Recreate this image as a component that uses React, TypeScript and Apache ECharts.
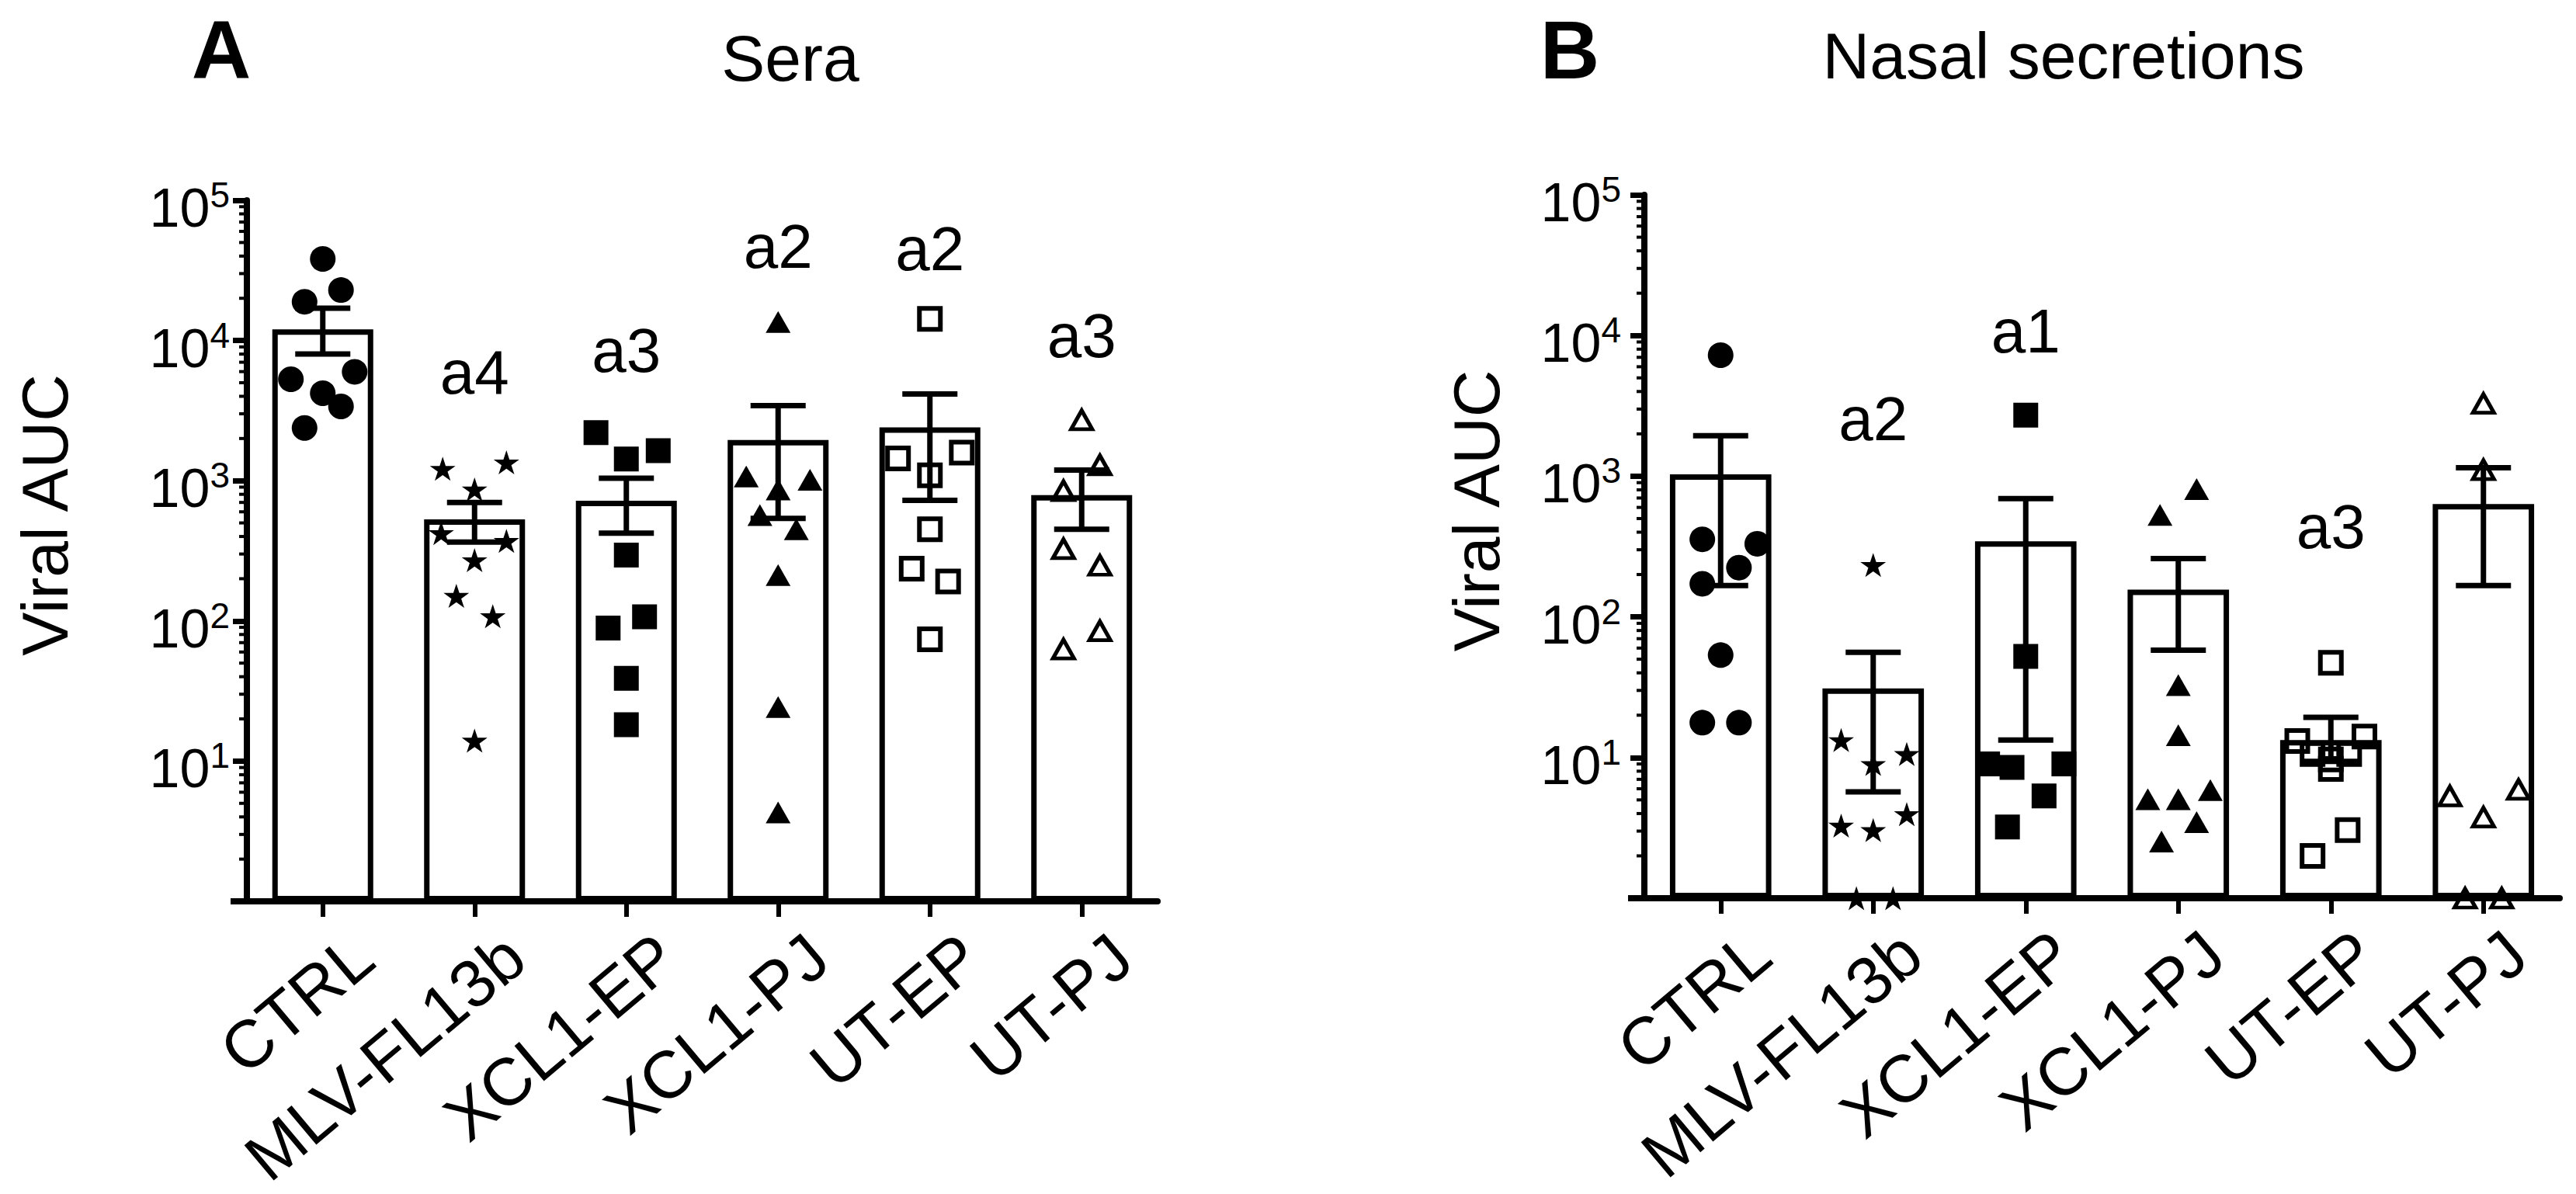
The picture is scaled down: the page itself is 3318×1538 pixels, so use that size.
import React, { useEffect, useRef } from "react";
import * as echarts from "echarts";

const categories = ["CTRL", "MLV-FL13b", "XCL1-EP", "XCL1-PJ", "UT-EP", "UT-PJ"];

// Panel A — Sera: bar means and SEM caps
const seraMean = [12000, 530, 720, 1950, 2400, 790];
const seraHigh = [17000, 700, 1040, 3430, 4150, 1190];
const seraLow = [8000, 365, 423, 538, 724, 450];

// Panel A individual animals: [spread within column, value]
const seraCTRL = [[0, 38200], [0.12, 22900], [-0.12, 18900], [0.21, 5980], [-0.21, 5290], [0, 4210], [0.12, 3390], [-0.12, 2380]];
const seraMLV = [[-0.21, 1217], [0.21, 1352], [0, 867], [-0.22, 423], [0.21, 372], [0, 271], [-0.12, 151], [0.12, 108], [0, 14]];
const seraXCL1EP = [[-0.2, 2200], [0.21, 1637], [0, 1427], [0, 295], [0.12, 107], [-0.12, 89], [0, 39], [0, 18.2]];
const seraXCL1PJ = [[0, 13560], [-0.21, 1072], [0.21, 1016], [0, 867], [-0.12, 568], [0.12, 450], [0, 212], [0, 24.3], [0, 4.3]];
const seraUTEP = [[0, 14280], [-0.21, 1440], [0.21, 1585], [0, 1094], [0, 450], [-0.12, 236], [0.12, 191], [0, 74]];
const seraUTPJ = [[0, 2717], [0.12, 1295], [-0.12, 849], [-0.12, 327], [0.12, 249], [0.12, 85], [-0.12, 63]];

// Panel B — Nasal secretions
const nasalMean = [1030, 31, 345, 156, 13.3, 635];
const nasalHigh = [1940, 56, 692, 260, 19.3, 1148];
const nasalLow = [167, 5.7, 13.3, 58, 9.4, 167];

const nasalCTRL = [[0, 7250], [-0.12, 356], [0.24, 331], [0.12, 224], [-0.12, 172], [0, 53.5], [-0.12, 17.7], [0.12, 17.7]];
const nasalMLV = [[0, 234], [-0.21, 13.3], [0, 9.0], [0.22, 10.6], [0.22, 3.96], [-0.21, 3.28], [0, 3.05], [-0.11, 1], [0.13, 1]];
const nasalXCL1EP = [[0, 2720], [0, 52.4], [-0.25, 9.0], [0.25, 9.0], [-0.09, 8.5], [0.12, 5.33], [-0.12, 3.21]];
const nasalXCL1PJ = [[0.12, 811], [-0.12, 531], [0, 32.7], [0, 14.4], [0.21, 5.86], [-0.2, 5.06], [0, 5.06], [0.12, 3.47], [-0.11, 2.53]];
const nasalUTEP = [[0, 47.2], [-0.22, 13.1], [0.22, 14.1], [-0.12, 10.6], [0.12, 10.6], [0, 9.7], [0, 8.3], [0.11, 3.05], [-0.12, 2.0]];
const nasalUTPJ = [[0, 3290], [0, 1112], [-0.22, 5.33], [0.23, 5.93], [0, 3.77], [-0.12, 1], [0.12, 1]];

// Significance letters and the value level at which each is centred
const seraLetters = ["", "a4", "a3", "a2", "a2", "a3"];
const seraLetterLevel = [0, 5930, 8490, 46700, 45200, 10800];
const nasalLetters = ["", "a2", "a1", "", "a3", ""];
const nasalLetterLevel = [0, 2550, 10800, 0, 438, 0];

const yMin = 1;
const yMax = 100000;

const FONT = "'Liberation Sans', Arial, Helvetica, sans-serif";
const STAR = "path://M50 2 L61.2 36.6 L97.6 36.6 L68.2 58 L79.4 92.6 L50 71.2 L20.6 92.6 L31.8 58 L2.4 36.6 L38.8 36.6 Z";

const markerStyles = [
  { symbol: "circle", symbolSize: 33, itemStyle: { color: "#000", opacity: 1 } },
  { symbol: STAR, symbolSize: [33, 31], itemStyle: { color: "#000", opacity: 1 } },
  { symbol: "rect", symbolSize: 32, itemStyle: { color: "#000", opacity: 1 } },
  { symbol: "triangle", symbolSize: [32, 28], itemStyle: { color: "#000", opacity: 1 } },
  { symbol: "rect", symbolSize: 27, itemStyle: { color: "rgba(0,0,0,0)", borderColor: "#000", borderWidth: 6, opacity: 1 } },
  { symbol: "triangle", symbolSize: [27, 24], itemStyle: { color: "rgba(0,0,0,0)", borderColor: "#000", borderWidth: 5, opacity: 1 } },
];

function minorTickValues(): number[][] {
  const out: number[][] = [];
  for (let d = 1; d < yMax; d *= 10) {
    for (let k = 2; k <= 9; k++) out.push([-0.5, d * k]);
  }
  return out;
}

function buildPanel(
  p: number,
  means: number[],
  highs: number[],
  lows: number[],
  groups: number[][][],
  letters: string[],
  letterLevel: number[],
  nameGap: number,
  labelMargin: number
) {
  const catIdx = p * 2;
  const valIdx = p * 2 + 1;
  const xAxes: any[] = [
    {
      type: "category",
      gridIndex: p,
      data: categories,
      boundaryGap: true,
      axisLine: { show: true, onZero: false, lineStyle: { color: "#000", width: 8 } },
      axisTick: { show: true, alignWithLabel: true, length: 20, lineStyle: { color: "#000", width: 6 } },
      axisLabel: { show: false },
      splitLine: { show: false },
    },
    { type: "value", gridIndex: p, min: -0.5, max: 5.5, show: false, axisLine: { onZero: false } },
  ];
  const labelAxis = {
    type: "category",
    gridIndex: 2 + p,
    data: categories,
    boundaryGap: true,
    axisLine: { show: false, onZero: false },
    axisTick: { show: false },
    splitLine: { show: false },
    axisLabel: {
      show: true,
      interval: 0,
      rotate: 40,
      align: "right",
      verticalAlign: "top",
      margin: 34,
      fontSize: 86,
      lineHeight: 66,
      fontFamily: FONT,
      color: "#000",
    },
  };
  const yAxis = {
    type: "log",
    logBase: 10,
    gridIndex: p,
    min: yMin,
    max: yMax,
    axisLine: { show: true, onZero: false, lineStyle: { color: "#000", width: 8 } },
    axisTick: { show: true, inside: false, length: 18, lineStyle: { color: "#000", width: 7 } },
    splitLine: { show: false },
    minorTick: { show: false },
    axisLabel: {
      margin: labelMargin,
      padding: [20, 0, 0, 0],
      formatter: (v: number) => {
        const e = Math.round(Math.log10(v));
        return e === 0 ? "" : `{b|10}{s|${e}}`;
      },
      rich: {
        b: { fontSize: 70, fontFamily: FONT, color: "#000", lineHeight: 80 },
        s: { fontSize: 46, fontFamily: FONT, color: "#000", lineHeight: 46, verticalAlign: "top" },
      },
    },
    name: "Viral AUC",
    nameLocation: "middle",
    nameRotate: 90,
    nameGap,
    nameTextStyle: { fontSize: 84, fontFamily: FONT, color: "#000", padding: [0, 0, 0, 92] },
  };
  const labelYAxis = { type: "value", gridIndex: 2 + p, show: false, axisLine: { onZero: false } };

  const series: any[] = [];
  series.push({
    type: "bar",
    xAxisIndex: catIdx,
    yAxisIndex: p,
    data: means,
    barWidth: "66.5%",
    itemStyle: { color: "#fff", borderColor: "#000", borderWidth: 7 },
    z: 2,
  });
  groups.forEach((g, i) => {
    const m = markerStyles[i];
    series.push({
      type: "scatter",
      xAxisIndex: valIdx,
      yAxisIndex: p,
      clip: false,
      data: g.map(([off, v]) => [i + off, v]),
      symbol: m.symbol,
      symbolSize: m.symbolSize,
      itemStyle: m.itemStyle,
      z: 3,
    });
  });
  series.push({
    type: "custom",
    xAxisIndex: valIdx,
    yAxisIndex: p,
    clip: false,
    data: means.map((_, i) => [i, lows[i], highs[i]]),
    encode: { x: 0, y: [1, 2] },
    z: 4,
    renderItem: (params: any, api: any) => {
      const x = api.value(0);
      const lo = api.coord([x, api.value(1)]);
      const hi = api.coord([x, api.value(2)]);
      const half = 35.5;
      const t = 7;
      const fill = { fill: "#000" };
      return {
        type: "group",
        children: [
          { type: "rect", shape: { x: hi[0] - t / 2, y: hi[1], width: t, height: lo[1] - hi[1] }, style: fill },
          { type: "rect", shape: { x: hi[0] - half, y: hi[1] - t / 2, width: half * 2, height: t }, style: fill },
          { type: "rect", shape: { x: lo[0] - half, y: lo[1] - t / 2, width: half * 2, height: t }, style: fill },
        ],
      };
    },
  });
  series.push({
    type: "custom",
    xAxisIndex: valIdx,
    yAxisIndex: p,
    clip: false,
    data: minorTickValues(),
    encode: { x: 0, y: 1 },
    z: 4,
    renderItem: (params: any, api: any) => {
      const pt = api.coord([api.value(0), api.value(1)]);
      const x0 = params.coordSys.x;
      return {
        type: "rect",
        shape: { x: x0 - 10, y: pt[1] - 2, width: 10, height: 4 },
        style: { fill: "#000" },
      };
    },
  });
  series.push({
    type: "scatter",
    xAxisIndex: valIdx,
    yAxisIndex: p,
    clip: false,
    symbolSize: 1,
    itemStyle: { color: "rgba(0,0,0,0)", opacity: 1 },
    data: letters
      .map((t, i) => ({ name: t, value: [i, letterLevel[i]] }))
      .filter((d) => d.name !== ""),
    label: {
      show: true,
      position: "inside",
      formatter: "{b}",
      fontSize: 80,
      fontFamily: FONT,
      color: "#000",
      opacity: 1,
    },
    z: 5,
  });
  return { xAxes, labelAxis, yAxis, labelYAxis, series };
}

export default function App() {
  const ref = useRef<HTMLDivElement>(null);
  useEffect(() => {
    document.body.style.margin = "0";
    if (!ref.current) return;
    const chart = echarts.init(ref.current, undefined, { renderer: "svg" });

    const gridA = { left: 318, top: 258, width: 1173, height: 903 };
    const gridB = { left: 2118, top: 251, width: 1179, height: 906 };
    const shift = 31;

    const A = buildPanel(0, seraMean, seraHigh, seraLow,
      [seraCTRL, seraMLV, seraXCL1EP, seraXCL1PJ, seraUTEP, seraUTPJ],
      seraLetters, seraLetterLevel, 218, 22);
    const B = buildPanel(1, nasalMean, nasalHigh, nasalLow,
      [nasalCTRL, nasalMLV, nasalXCL1EP, nasalXCL1PJ, nasalUTEP, nasalUTPJ],
      nasalLetters, nasalLetterLevel, 174, 30);

    const titleText = (text: string, x: number, y: number, size: number, weight: string) => ({
      type: "text",
      x,
      y,
      style: { text, fontSize: size, fontFamily: FONT, fontWeight: weight, fill: "#000", align: "center", verticalAlign: "middle" },
    });

    chart.setOption({
      animation: false,
      backgroundColor: "#fff",
      grid: [
        { ...gridA, containLabel: false },
        { ...gridB, containLabel: false },
        { ...gridA, left: gridA.left + shift, containLabel: false },
        { ...gridB, left: gridB.left + shift, containLabel: false },
      ],
      xAxis: [...A.xAxes, ...B.xAxes, A.labelAxis, B.labelAxis],
      yAxis: [A.yAxis, B.yAxis, A.labelYAxis, B.labelYAxis],
      series: [...A.series, ...B.series],
      graphic: [
        titleText("A", 285, 64, 106, "bold"),
        titleText("Sera", 1018, 75, 84, "normal"),
        titleText("B", 2022, 64, 106, "bold"),
        titleText("Nasal secretions", 2658, 72, 84, "normal"),
        { type: "rect", shape: { x: gridA.left - 21, y: gridA.top + gridA.height - 4, width: 21, height: 8 }, style: { fill: "#000" } },
        { type: "rect", shape: { x: gridB.left - 21, y: gridB.top + gridB.height - 4, width: 21, height: 8 }, style: { fill: "#000" } },
      ],
    });
    return () => chart.dispose();
  }, []);
  return <div ref={ref} style={{ width: 3318, height: 1538 }} />;
}
